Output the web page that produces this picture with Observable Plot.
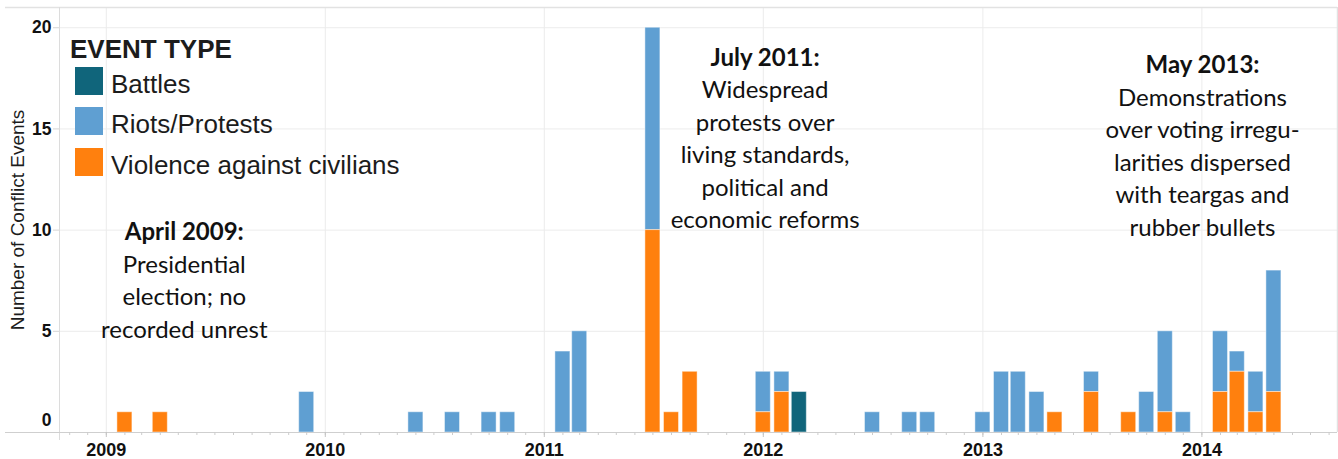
<!DOCTYPE html>
<html>
<head>
<meta charset="utf-8">
<script src="https://cdn.jsdelivr.net/npm/d3@7"></script>
<script src="https://cdn.jsdelivr.net/npm/@observablehq/plot@0.6"></script>
<style>
  html, body { margin: 0; padding: 0; background: #fff; }
  #wrap { position: relative; width: 1338px; height: 459px; overflow: hidden; }
  #legend { position: absolute; left: 0; top: 0; font-family: "Liberation Sans", Arial, sans-serif; color: #1c1c1c; }
  #legend .lt { position: absolute; left: 70px; top: 36px; font-size: 26px; line-height: 26px; font-weight: bold; white-space: nowrap; }
  #legend .sw { position: absolute; left: 75px; width: 28px; height: 28px; }
  #legend .lb { position: absolute; left: 111px; font-size: 26px; line-height: 26px; white-space: nowrap; }
</style>
</head>
<body>
<div id="wrap"></div>
<script>
// ---- data ----
const months   = ["2009-02","2009-04","2009-12","2010-06","2010-08","2010-10","2010-11","2011-02","2011-03","2011-07","2011-08","2011-09","2012-01","2012-02","2012-03","2012-07","2012-09","2012-10","2013-01","2013-02","2013-03","2013-04","2013-05","2013-07","2013-09","2013-10","2013-11","2013-12","2014-02","2014-03","2014-04","2014-05"];
const battles  = [0,0,0,0,0,0,0,0,0, 0,0,0,0,0,2,0,0,0,0,0,0,0,0,0,0,0,0,0,0,0,0,0];
const riots    = [0,0,2,1,1,1,1,4,5,10,0,0,2,1,0,1,1,1,1,3,3,2,0,1,0,2,4,1,3,1,2,6];
const violence = [1,1,0,0,0,0,0,0,0,10,1,3,1,2,0,0,0,0,0,0,0,0,1,2,1,0,1,0,2,3,1,2];
const eventTypes = ["Battles", "Riots/Protests", "Violence against civilians"];
const typeColors = ["#10657b", "#5f9fd2", "#ff800e"];
const stackOrder = ["Violence against civilians", "Riots/Protests", "Battles"];
const yTicks = [0, 5, 10, 15, 20];
const yLabel = "Number of Conflict Events";
const annotations = [
  {title: "April 2009:", lines: ["Presidential", "election; no", "recorded unrest"]},
  {title: "July 2011:", lines: ["Widespread", "protests over", "living standards,", "political and", "economic reforms"]},
  {title: "May 2013:", lines: ["Demonstrations", "over voting irregu-", "larities dispersed", "with teargas and", "rubber bullets"]}
];

// ---- layout / scales ----
const xDomain = [new Date(Date.UTC(2008, 9, 15)), new Date(Date.UTC(2014, 7, 15))];
const yDomain = [0, 21];
const annoAnchors = [
  {x: new Date(Date.UTC(2009, 4, 11)), y: 9.49},
  {x: new Date(Date.UTC(2012, 0, 4)), y: 18.13},
  {x: new Date(Date.UTC(2014, 0, 2)), y: 17.74}
];
const annoData = annotations.map((a, i) => ({...a, ...annoAnchors[i], body: a.lines.join("\n")}));

const rows = months.flatMap((m, i) => {
  const d = new Date(m + "-01T00:00:00Z");
  const x1 = d3.utcHour.offset(d, -300);
  const x2 = d3.utcHour.offset(d, 300);
  return [[eventTypes[0], battles[i]], [eventTypes[1], riots[i]], [eventTypes[2], violence[i]]]
    .filter(([, c]) => c > 0)
    .map(([type, count]) => ({type, count, x1, x2, month: d}));
});

const monthTicks = d3.utcMonth.range(xDomain[0], xDomain[1]);
const yearTicks = d3.utcYear.range(xDomain[0], xDomain[1]);

const annoFont = "Lato, 'Open Sans', sans-serif";
const annoSize = 24;
const annoLH = 32.5;

const chart = Plot.plot({
  width: 1338,
  height: 459,
  marginLeft: 59,
  marginRight: 1,
  marginTop: 7,
  marginBottom: 27,
  style: {fontFamily: "'Liberation Sans', Arial, sans-serif", background: "#fff", overflow: "visible"},
  x: {type: "utc", domain: xDomain},
  y: {domain: yDomain},
  color: {domain: eventTypes, range: typeColors},
  marks: [
    Plot.gridY(yTicks.filter(d => d > 0), {stroke: "#ececec", strokeOpacity: 1}),
    Plot.gridX(yearTicks, {stroke: "#ececec", strokeOpacity: 1}),
    Plot.ruleY([yDomain[1]], {stroke: "#e2e2e2", strokeWidth: 1.5, insetLeft: -54}),
    Plot.ruleX([xDomain[1]], {stroke: "#e2e2e2", strokeWidth: 1.5}),
    Plot.ruleX([xDomain[0]], {stroke: "#dcdcdc", insetBottom: -8}),
    Plot.rectY(rows, {x1: "x1", x2: "x2", y: "count", fill: "type", order: stackOrder, stroke: "#ffffff", strokeOpacity: 0.45, strokeWidth: 1}),
    Plot.ruleY([0], {stroke: "#cfcfcf", strokeWidth: 1.2, insetLeft: -54}),
    Plot.axisX(monthTicks, {tickSize: 3, tickFormat: () => "", stroke: "#cccccc", label: null}),
    Plot.axisX(yearTicks, {tickSize: 5, tickPadding: 6, tickFormat: "%Y", stroke: "#c4c4c4", fill: "#111", fontSize: 18, fontWeight: "bold", label: null}),
    Plot.axisY(yTicks.filter(d => d > 0), {tickSize: 6, tickPadding: 2, stroke: "#d4d4d4", fill: "#111", fontSize: 17.5, fontWeight: "bold", label: null}),
    Plot.axisY([0], {tickSize: 0, tickPadding: 8, dy: -12, fill: "#111", fontSize: 17.5, fontWeight: "bold", label: null}),
    Plot.text([yLabel], {frameAnchor: "left", rotate: -90, dx: -41.5, text: d => d, fontSize: 19, fill: "#1c1c1c", textAnchor: "middle", lineAnchor: "middle"}),
    Plot.text(annoData, {x: "x", y: "y", text: "title", fontFamily: annoFont, fontSize: annoSize, fontWeight: "bold", fill: "#111", lineAnchor: "bottom"}),
    Plot.text(annoData, {x: "x", y: "y", text: "body", fontFamily: annoFont, fontSize: annoSize, fill: "#111", lineAnchor: "top", lineHeight: annoLH / annoSize, dy: annoLH - 0.71 * annoLH})
  ]
});

const wrap = document.getElementById("wrap");
wrap.appendChild(chart);

// ---- legend (overlay) ----
const color = chart.scale("color");
const legend = document.createElement("div");
legend.id = "legend";
let html = `<div class="lt">EVENT TYPE</div>`;
eventTypes.forEach((t, i) => {
  const top = 66.8 + 40.5 * i;
  html += `<div class="sw" style="top:${top}px;background:${color.apply(t)}"></div>`;
  html += `<div class="lb" style="top:${top + 4}px">${t}</div>`;
});
legend.innerHTML = html;
wrap.appendChild(legend);
</script>
</body>
</html>
